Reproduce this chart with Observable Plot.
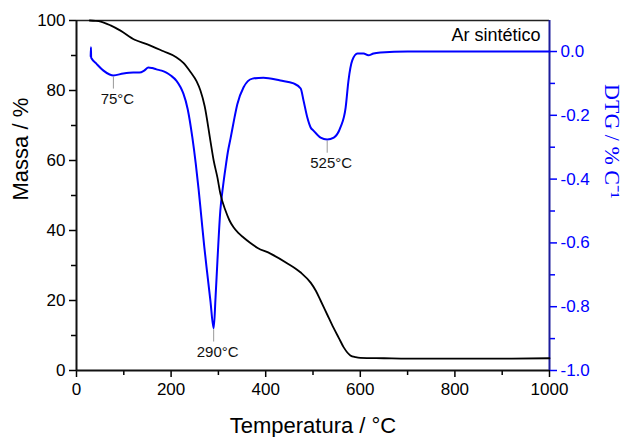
<!DOCTYPE html>
<html><head><meta charset="utf-8">
<script src="https://cdn.jsdelivr.net/npm/d3@7"></script>
<script src="https://cdn.jsdelivr.net/npm/@observablehq/plot@0.6"></script>
<style>
body{margin:0;background:#fff}
svg{font-family:"Liberation Sans",Arial,sans-serif}
</style>
</head><body><div id="chart"></div>
<script>
// Mass (TG) curve: temperature (°C) and mass (%)
const massT = [28, 40, 51, 72, 93, 123, 150, 184, 210, 226, 241, 254, 262, 271, 283, 290, 298, 304, 315, 323, 332, 342, 353, 367, 382, 410, 446, 474, 495, 506, 516, 530, 543, 555, 565, 579, 590, 600, 650, 700, 800, 900, 1000];
const massV = [100, 99.9, 99.7, 98.6, 97.1, 94.5, 93.2, 91.2, 89.6, 87.9, 85.3, 82.6, 80.0, 75.5, 65.7, 60.0, 55.1, 50.6, 45.7, 43.0, 40.9, 39.3, 38.0, 36.5, 35.1, 33.4, 30.6, 28.0, 25.1, 22.8, 20.0, 16.0, 12.3, 9.2, 6.6, 4.3, 3.8, 3.6, 3.5, 3.4, 3.4, 3.4, 3.5];
// DTG curve: temperature (°C) and DTG (% °C-1)
const dtgT = [30, 30.5, 31, 32, 42, 57, 70, 78, 99, 120, 133, 143, 152, 160, 169, 180, 190, 200, 211, 220, 226, 235, 245, 252, 258, 264, 270, 276, 283, 290, 294, 298, 304, 310, 315, 320, 326, 333, 340, 353, 372, 395, 431, 459, 474, 480, 488, 495, 501, 516, 530, 544, 558, 569, 575, 583, 594, 607, 617, 628, 643, 700, 800, 900, 1000];
const dtgV = [-0.015, 0.013, -0.019, -0.022, -0.038, -0.06, -0.072, -0.075, -0.069, -0.066, -0.066, -0.06, -0.05, -0.052, -0.056, -0.06, -0.066, -0.076, -0.091, -0.112, -0.132, -0.18, -0.27, -0.35, -0.43, -0.52, -0.61, -0.69, -0.78, -0.868, -0.77, -0.655, -0.5, -0.42, -0.365, -0.315, -0.27, -0.215, -0.165, -0.113, -0.085, -0.082, -0.091, -0.1, -0.116, -0.154, -0.207, -0.238, -0.248, -0.27, -0.276, -0.27, -0.238, -0.176, -0.091, -0.028, -0.006, -0.006, -0.012, -0.006, -0.003, 0.0, 0.0, 0.0, 0.0];
// Axis ticks
const xMajor = [0, 200, 400, 600, 800, 1000];
const xMinor = [100, 300, 500, 700, 900];
const yMajor = [0, 20, 40, 60, 80, 100];
const yMinor = [10, 30, 50, 70, 90];
const dtgMajor = [-1.0, -0.8, -0.6, -0.4, -0.2, 0.0];
const dtgMinor = [-0.9, -0.7, -0.5, -0.3, -0.1];
// Peak annotations
const peakLabel = ["75°C", "290°C", "525°C"];
const peakT = [78, 290, 530];
const peakDtg = [-0.075, -0.868, -0.276];

// DTG values share the mass y scale via a linear map (DTG 0 -> 91.14, -1 -> 0)
const DTG_SPAN = 91.14;
const toY = d => (d + 1) * DTG_SPAN;
const fromY = y => y / DTG_SPAN - 1;

const massData = massT.map((t, i) => ({t, v: massV[i]}));
const dtgData = dtgT.map((t, i) => ({t, v: toY(dtgV[i])}));
const peaks = peakLabel.map((label, i) => ({label, t: peakT[i], y: toY(peakDtg[i])}));

const BLUE = "#0000ff";
const NAVY = "#1c1c9c";

const chart = Plot.plot({
  width: 628,
  height: 437,
  marginLeft: 76,
  marginRight: 79,
  marginTop: 20,
  marginBottom: 67,
  x: {domain: [0, 1000]},
  y: {domain: [0, 100]},
  style: {fontFamily: '"Liberation Sans", Arial, sans-serif', background: "#fff"},
  marks: [
    // axes (major)
    Plot.axisX({ticks: xMajor, tickSize: 7, tickPadding: 5, fontSize: 17, label: null, tickFormat: d => String(d), stroke: "#000", strokeWidth: 1.5, color: "#000"}),
    Plot.axisX({ticks: xMinor, tickSize: 5, tickFormat: () => "", label: null, stroke: "#000", strokeWidth: 1.5}),
    Plot.axisY({anchor: "left", ticks: yMajor, tickSize: 7, tickPadding: 4, fontSize: 17, label: null, tickFormat: d => String(d), stroke: "#000", strokeWidth: 1.5, color: "#000"}),
    Plot.axisY({anchor: "left", ticks: yMinor, tickSize: 5, tickFormat: () => "", label: null, stroke: "#000", strokeWidth: 1.5}),
    Plot.axisY({anchor: "right", ticks: dtgMajor.map(toY), tickSize: 7, tickPadding: 4, fontSize: 17, label: null,
      tickFormat: y => fromY(y).toFixed(1).replace("-0.0", "0.0"), stroke: BLUE, strokeWidth: 1.5, color: BLUE, fill: BLUE}),
    Plot.axisY({anchor: "right", ticks: dtgMinor.map(toY), tickSize: 5, tickFormat: () => "", label: null, stroke: BLUE, strokeWidth: 1.5}),
    // frame
    Plot.ruleY([100], {stroke: "#222", strokeWidth: 1.5}),
    Plot.ruleY([0], {stroke: "#111", strokeWidth: 2}),
    Plot.ruleX([0], {stroke: "#111", strokeWidth: 2}),
    Plot.ruleX([1000], {stroke: NAVY, strokeWidth: 2}),
    // curves
    Plot.line(dtgData, {x: "t", y: "v", stroke: BLUE, strokeWidth: 2, curve: "monotone-x"}),
    Plot.line(massData, {x: "t", y: "v", stroke: "#000", strokeWidth: 1.8, curve: "monotone-x"}),
    // peak leaders and labels
    Plot.ruleX(peaks, {x: "t", y1: d => d.y - 0.4, y2: d => d.y - 3.9, stroke: "#999", strokeWidth: 1}),
    Plot.text(peaks, {x: "t", y: "y", text: "label", dy: 24, dx: 4, fontSize: 15, fill: "#111"}),
    // labels
    Plot.text(["Ar sintético"], {frameAnchor: "top-right", dx: -9, dy: 15, lineAnchor: "middle", textAnchor: "end", fontSize: 18, fill: "#000"}),
    Plot.text(["Temperatura / °C"], {frameAnchor: "bottom", dy: 55, lineAnchor: "middle", fontSize: 22, fill: "#000"}),
    Plot.text(["Massa / %"], {frameAnchor: "left", dx: -56, dy: 5, rotate: -90, lineAnchor: "middle", fontSize: 22, fill: "#000"}),
    Plot.text(["DTG / % C⁻¹"], {frameAnchor: "right", dx: 63, dy: 3, rotate: 90, lineAnchor: "middle", fontSize: 22, fill: BLUE, fontFamily: '"Liberation Serif", "Times New Roman", serif'})
  ]
});
document.getElementById("chart").appendChild(chart);
</script>
</body></html>
